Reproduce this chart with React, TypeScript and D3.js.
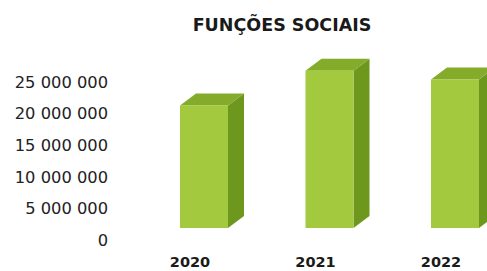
import React, { useRef, useEffect } from "react";
import * as d3 from "d3";

// Data
const years: string[] = ["2020", "2021", "2022"];
const values: number[] = [19400000, 24900000, 23500000];
const tickValues: number[] = [0, 5000000, 10000000, 15000000, 20000000, 25000000];
const title = "FUNÇÕES SOCIAIS";

const BarChart3D = () => {
  const svgRef = useRef<SVGSVGElement>(null);

  useEffect(() => {
    const width = 487;
    const height = 271;
    const depth = { dx: 16, dy: -12 };
    const barWidth = 48;

    const svg = d3.select(svgRef.current).attr("width", width).attr("height", height);
    svg.selectAll("*").remove();

    // Scales
    const xScale = d3.scalePoint<string>().domain(years).range([204, 455]);
    const axisScale = d3.scaleLinear().domain([0, 25000000]).range([240, 82]);
    const barScale = d3.scaleLinear().domain([0, 25000000]).range([228, 70]);

    const fmt = (d: number) => d3.format(",")(d).replace(/,/g, " ");

    // Title
    svg
      .append("text")
      .attr("x", 282)
      .attr("y", 31)
      .attr("text-anchor", "middle")
      .style("font-family", "'DejaVu Sans', sans-serif")
      .style("font-weight", "bold")
      .style("font-size", "17.5px")
      .attr("fill", "#1a1a1a")
      .text(title);

    // Value axis labels
    svg
      .append("g")
      .selectAll("text")
      .data(tickValues)
      .join("text")
      .attr("x", 108)
      .attr("y", (d) => axisScale(d))
      .attr("dy", "0.35em")
      .attr("text-anchor", "end")
      .style("font-family", "'DejaVu Sans', sans-serif")
      .style("font-size", "16.3px")
      .attr("fill", "#222")
      .text((d) => fmt(d));

    // Bars
    const bars = svg
      .append("g")
      .selectAll("g")
      .data(years.map((y, i) => ({ year: y, value: values[i] })))
      .join("g");

    const x0 = (d: { year: string }) => (xScale(d.year) as number) - barWidth / 2;
    const x1 = (d: { year: string }) => x0(d) + barWidth;
    const yTop = (d: { value: number }) => barScale(d.value);
    const yBot = barScale(0);

    // side face
    bars
      .append("path")
      .attr("fill", "#6e971e")
      .attr("d", (d) => {
        const a = x1(d);
        const t = yTop(d);
        return `M${a},${t}L${a + depth.dx},${t + depth.dy}L${a + depth.dx},${yBot + depth.dy}L${a},${yBot}Z`;
      });

    // top face
    bars
      .append("path")
      .attr("fill", "#84ab2a")
      .attr("d", (d) => {
        const a = x0(d);
        const b = x1(d);
        const t = yTop(d);
        return `M${a},${t}L${a + depth.dx},${t + depth.dy}L${b + depth.dx},${t + depth.dy}L${b},${t}Z`;
      });

    // front face
    bars
      .append("rect")
      .attr("x", (d) => x0(d))
      .attr("y", (d) => yTop(d))
      .attr("width", barWidth)
      .attr("height", (d) => yBot - yTop(d))
      .attr("fill", "#a3c93e");

    // Category labels
    svg
      .append("g")
      .selectAll("text")
      .data(years)
      .join("text")
      .attr("x", (d) => (xScale(d) as number) - 14)
      .attr("y", 267)
      .attr("text-anchor", "middle")
      .style("font-family", "'DejaVu Sans', sans-serif")
      .style("font-weight", "bold")
      .style("font-size", "14.5px")
      .attr("fill", "#1a1a1a")
      .text((d) => d);
  }, []);

  return <svg ref={svgRef} style={{ position: "absolute", left: 0, top: 0, background: "#fff" }} />;
};

const App = () => {
  return <BarChart3D />;
};

export default App;
